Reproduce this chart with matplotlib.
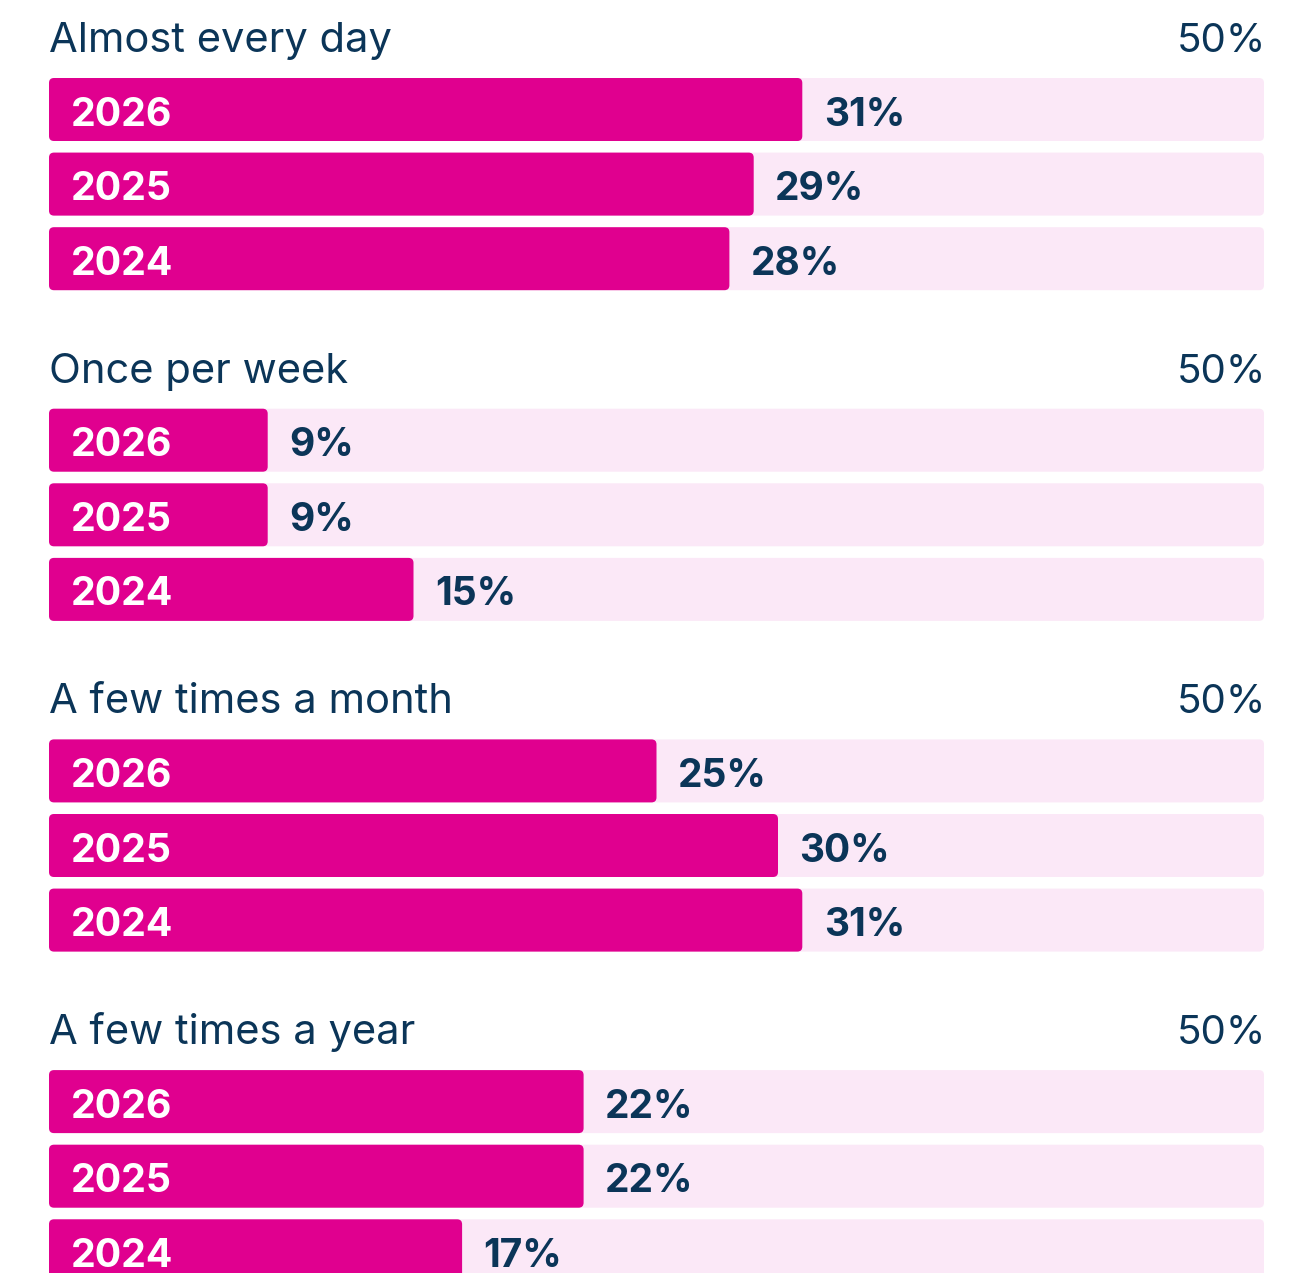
import matplotlib
matplotlib.use("Agg")
import matplotlib.pyplot as plt
from matplotlib.patches import FancyBboxPatch

categories = ["Almost every day", "Once per week", "A few times a month", "A few times a year"]
years = ["2026", "2025", "2024"]
values = {
    "Almost every day": [31, 29, 28],
    "Once per week": [9, 9, 15],
    "A few times a month": [25, 30, 31],
    "A few times a year": [22, 22, 17],
}
max_label = "50%"
xmax = 50

MAGENTA = "#E0008F"
LIGHT = "#FBE8F7"
NAVY = "#0B3558"

W, H = 1302, 1273
fig = plt.figure(figsize=(W / 100, H / 100), dpi=100)
left_px, right_px = 49, 1264
ax = fig.add_axes([left_px / W, 0, (right_px - left_px) / W, 1])
ax.set_xlim(0, xmax)
ax.set_ylim(H, 0)
ax.axis("off")

px_per_x = (right_px - left_px) / xmax
ma = px_per_x  # y units are pixels
r_px = 5

group_top0 = 78
group_pitch = 330.7
row_pitch = 74.6
bar_h = 63

plt.rcParams["font.family"] = ["Inter", "DejaVu Sans"]

for g, cat in enumerate(categories):
    gtop = group_top0 + g * group_pitch
    ax.text(0, gtop - 26, cat, fontsize=30, color=NAVY, va="baseline", ha="left")
    ax.text(xmax + 2 / px_per_x, gtop - 26, max_label, fontsize=29, color=NAVY,
            va="baseline", ha="right", clip_on=False)
    for r, (yr, v) in enumerate(zip(years, values[cat])):
        y0 = gtop + r * row_pitch
        bg = FancyBboxPatch((0, y0), xmax, bar_h,
                            boxstyle=f"round,pad=0,rounding_size={r_px / px_per_x}",
                            mutation_aspect=ma, facecolor=LIGHT, edgecolor="none")
        ax.add_patch(bg)
        fg = FancyBboxPatch((0, y0), v, bar_h,
                            boxstyle=f"round,pad=0,rounding_size={r_px / px_per_x}",
                            mutation_aspect=ma, facecolor=MAGENTA, edgecolor="none")
        ax.add_patch(fg)
        ax.text(21.5 / px_per_x, y0 + 47.5, yr, fontsize=28.3, fontweight="bold",
                color="white", va="baseline", ha="left")
        ax.text(v + 21.5 / px_per_x, y0 + 47.5, f"{v}%", fontsize=28, fontweight="bold",
                color=NAVY, va="baseline", ha="left")

fig.savefig("out.png", dpi=100)
